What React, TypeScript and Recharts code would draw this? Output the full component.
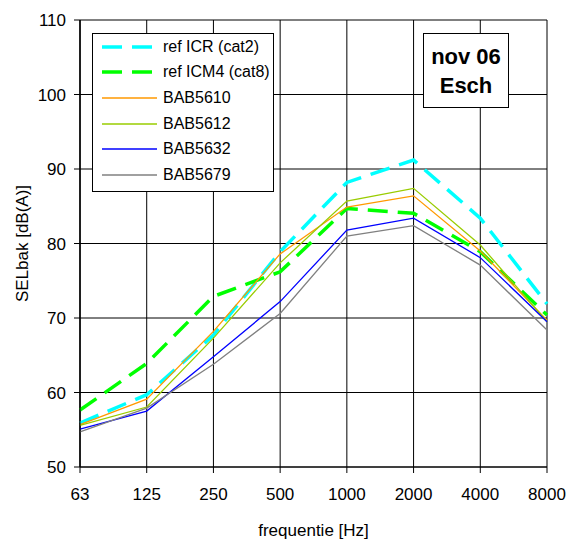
import { LineChart, Line, XAxis, YAxis, CartesianGrid, Label } from "recharts";

const frequencies = ["63", "125", "250", "500", "1000", "2000", "4000", "8000"];
const refIcr = [55.9, 59.7, 67.7, 78.9, 88.2, 91.2, 83.4, 71.9];
const refIcm4 = [57.65, 63.9, 72.9, 76.2, 84.7, 84.05, 78.9, 70.4];
const bab5610 = [55.7, 59.1, 68.2, 78.6, 84.9, 86.4, 79.0, 69.7];
const bab5612 = [55.6, 58.05, 67.3, 77.4, 85.7, 87.4, 79.8, 69.5];
const bab5632 = [55.1, 57.5, 64.8, 72.2, 81.8, 83.4, 78.1, 69.5];
const bab5679 = [54.7, 57.9, 63.8, 70.6, 81.0, 82.4, 77.1, 68.4];
const yTicks = [50, 60, 70, 80, 90, 100, 110];

const FONT = "'Liberation Sans', Arial, sans-serif";

const series = [
  { key: "icr", name: "ref ICR (cat2)", color: "#00FFFF", dashed: true },
  { key: "icm4", name: "ref ICM4 (cat8)", color: "#00FF00", dashed: true },
  { key: "b5610", name: "BAB5610", color: "#FF9900", dashed: false },
  { key: "b5612", name: "BAB5612", color: "#99CC00", dashed: false },
  { key: "b5632", name: "BAB5632", color: "#0000FF", dashed: false },
  { key: "b5679", name: "BAB5679", color: "#808080", dashed: false },
];

const data = frequencies.map((f, i) => ({
  freq: f,
  icr: refIcr[i],
  icm4: refIcm4[i],
  b5610: bab5610[i],
  b5612: bab5612[i],
  b5632: bab5632[i],
  b5679: bab5679[i],
}));

// legend drawn as an overlay so it doesn't eat plot space
function LegendBox() {
  return (
    <div
      style={{
        position: "absolute",
        left: 84,
        top: 25,
        width: 182,
        height: 159,
        boxSizing: "border-box",
        border: "1px solid #000",
        background: "#fff",
        fontFamily: FONT,
        fontSize: 16,
      }}
    >
      {series.map((s) => (
        <div key={s.key} style={{ height: 25.6, display: "flex", alignItems: "center" }}>
          <svg width={61} height={10} style={{ marginLeft: 9, flex: "none" }}>
            <line
              x1={0}
              y1={5}
              x2={55}
              y2={5}
              stroke={s.color}
              strokeWidth={s.dashed ? 3.5 : 1.5}
              strokeDasharray={s.dashed ? "20 10" : undefined}
            />
          </svg>
          <span style={{ color: "#000", whiteSpace: "nowrap" }}>{s.name}</span>
        </div>
      ))}
    </div>
  );
}

export default function App() {
  return (
    <div style={{ width: 570, height: 540, padding: 8, boxSizing: "border-box", background: "#fff" }}>
      {/* drop the default body margin; the 8px is kept as padding instead */}
      <style>{"body { margin: 0; }"}</style>
      <div style={{ position: "relative", width: 562, height: 532, fontFamily: FONT }}>
        <LineChart
          width={562}
          height={532}
          data={data}
          margin={{ top: 12, right: 23, bottom: 0, left: 0 }}
          style={{ overflow: "visible" }}
        >
          <CartesianGrid stroke="#000" strokeWidth={1} />
          <XAxis
            dataKey="freq"
            interval={0}
            height={73}
            tickSize={6}
            tickMargin={15}
            axisLine={{ stroke: "#000" }}
            tickLine={{ stroke: "#000" }}
            tick={{ fill: "#000", fontSize: 17, fontFamily: FONT }}
          >
            <Label
              value="frequentie [Hz]"
              position="insideBottom"
              offset={4}
              style={{ fill: "#000", fontSize: 17, fontFamily: FONT }}
            />
          </XAxis>
          <YAxis
            domain={[50, 110]}
            ticks={yTicks}
            width={72}
            tickSize={6}
            tickMargin={8}
            axisLine={{ stroke: "#000" }}
            tickLine={{ stroke: "#000" }}
            tick={{ fill: "#000", fontSize: 17, fontFamily: FONT }}
          >
            <Label
              value="SELbak [dB(A)]"
              angle={-90}
              position="insideLeft"
              offset={14}
              style={{ fill: "#000", fontSize: 17, fontFamily: FONT, textAnchor: "middle" }}
            />
          </YAxis>
          {series.map((s) => (
            <Line
              key={s.key}
              type="linear"
              dataKey={s.key}
              name={s.name}
              stroke={s.color}
              strokeWidth={s.dashed ? 3.5 : 1.3}
              strokeDasharray={s.dashed ? "20 10" : undefined}
              dot={false}
              activeDot={false}
              isAnimationActive={false}
            />
          ))}
        </LineChart>
        <LegendBox />
        <div
          style={{
            position: "absolute",
            left: 415,
            top: 25,
            width: 86,
            height: 75,
            boxSizing: "border-box",
            border: "1px solid #000",
            background: "#fff",
            display: "flex",
            flexDirection: "column",
            alignItems: "center",
            justifyContent: "center",
            fontWeight: "bold",
            fontSize: 22,
            lineHeight: "29px",
            color: "#000",
          }}
        >
          <div>nov 06</div>
          <div>Esch</div>
        </div>
      </div>
    </div>
  );
}
